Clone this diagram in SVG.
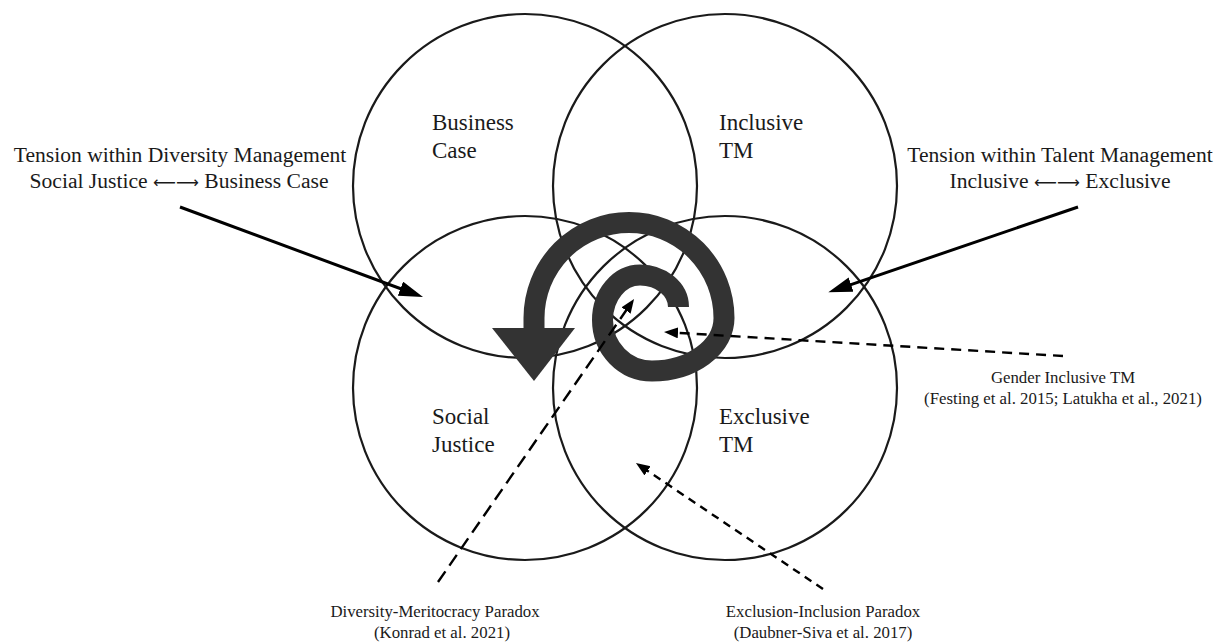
<svg xmlns="http://www.w3.org/2000/svg" width="1226" height="644" viewBox="0 0 1226 644">
  <defs>
    <style>
      .ring { fill: none; stroke: #1a1a1a; stroke-width: 2.2; }
      .label { font-family: "Liberation Serif", "Times New Roman", serif; fill: #1a1a1a; }
      .node-label { font-size: 23px; }
      .tension { font-size: 21.6px; text-anchor: middle; }
      .arrows { font-family: "DejaVu Sans", sans-serif; font-size: 16px; }
      .cite { font-size: 16.8px; text-anchor: middle; }
      .solid { fill: none; stroke: #000; stroke-width: 3; }
      .dashed { fill: none; stroke: #000; stroke-width: 2.4; }
      .spiral { fill: none; stroke: #333; stroke-width: 21; stroke-linecap: butt; stroke-linejoin: round; }
    </style>
    <!-- large filled head for the tension arrows -->
    <marker id="head-solid" markerUnits="userSpaceOnUse" markerWidth="26" markerHeight="16" refX="14" refY="7.5" orient="auto">
      <path d="M0,0 L24,7.5 L0,15 z" fill="#000"/>
    </marker>
    <!-- small filled head for the dashed citation arrows -->
    <marker id="head-dash" markerUnits="userSpaceOnUse" markerWidth="16" markerHeight="12" refX="9" refY="5.5" orient="auto">
      <path d="M0,0 L14,5.5 L0,11 z" fill="#000"/>
    </marker>
  </defs>

  <rect width="1226" height="644" fill="#fff"/>

  <!-- four overlapping circles -->
  <g id="node-business-case">
    <circle class="ring" cx="525" cy="186" r="172"/>
    <text class="label node-label" x="432" y="130">Business</text>
    <text class="label node-label" x="432" y="158">Case</text>
  </g>
  <g id="node-inclusive-tm">
    <circle class="ring" cx="725" cy="186" r="172"/>
    <text class="label node-label" x="719" y="130">Inclusive</text>
    <text class="label node-label" x="719" y="158">TM</text>
  </g>
  <g id="node-social-justice">
    <circle class="ring" cx="525" cy="388" r="172"/>
    <text class="label node-label" x="432" y="424">Social</text>
    <text class="label node-label" x="432" y="452">Justice</text>
  </g>
  <g id="node-exclusive-tm">
    <circle class="ring" cx="725" cy="388" r="172" stroke="#2a2a2a"/>
    <text class="label node-label" x="719" y="424">Exclusive</text>
    <text class="label node-label" x="719" y="452">TM</text>
  </g>

  <!-- central spiral with its downward arrowhead -->
  <g id="node-spiral">
    <path class="spiral" d="M678.5,307 A38.5,32 0 0 0 640,275 A37.5,45 0 0 0 602.5,320 A49.5,51 0 0 0 652,371 A72,53 0 0 0 724,318 A95,95.5 0 0 0 629,222.5 A95,95.5 0 0 0 534,318 L534,330"/>
    <polygon points="492,328 575,328 534,381" fill="#333"/>
  </g>

  <!-- connectors -->
  <g id="connectors">
    <line class="solid" x1="180" y1="207" x2="413.6" y2="293.5" marker-end="url(#head-solid)"/>
    <line class="solid" x1="1078" y1="207" x2="837.8" y2="289.1" marker-end="url(#head-solid)"/>
    <line class="dashed" x1="438" y1="582" x2="631.2" y2="303.1" stroke-dasharray="13 7" marker-end="url(#head-dash)"/>
    <line class="dashed" x1="823" y1="589" x2="640.1" y2="465.8" stroke-dasharray="8 6" marker-end="url(#head-dash)"/>
    <line class="dashed" x1="1063" y1="356" x2="669" y2="332.3" stroke-dasharray="10 7" marker-end="url(#head-dash)"/>
  </g>

  <!-- connector labels -->
  <g id="label-diversity-tension">
    <text class="label tension" x="180" y="162">Tension within Diversity Management</text>
    <text class="label tension" x="179" y="188">Social Justice <tspan class="arrows">⟵⟶</tspan> Business Case</text>
  </g>
  <g id="label-talent-tension">
    <text class="label tension" x="1060" y="162">Tension within Talent Management</text>
    <text class="label tension" x="1060" y="188">Inclusive <tspan class="arrows">⟵⟶</tspan> Exclusive</text>
  </g>
  <g id="label-gender">
    <text class="label cite" x="1063" y="383">Gender Inclusive TM</text>
    <text class="label cite" x="1063" y="404">(Festing et al. 2015; Latukha et al., 2021)</text>
  </g>
  <g id="label-meritocracy">
    <text class="label cite" x="435" y="617">Diversity-Meritocracy Paradox</text>
    <text class="label cite" x="442" y="638">(Konrad et al. 2021)</text>
  </g>
  <g id="label-exclusion">
    <text class="label cite" x="823" y="617">Exclusion-Inclusion Paradox</text>
    <text class="label cite" x="823" y="638">(Daubner-Siva et al. 2017)</text>
  </g>
</svg>
